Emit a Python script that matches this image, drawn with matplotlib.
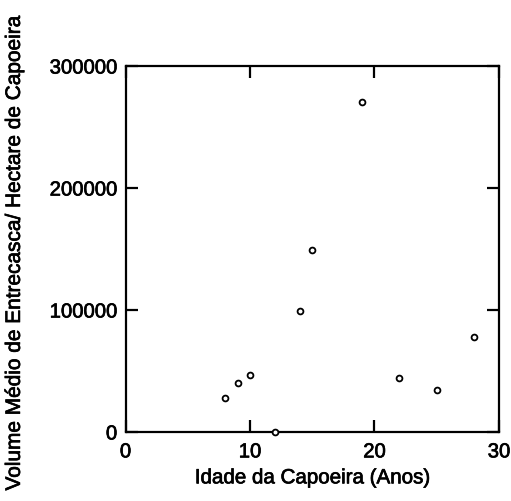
import matplotlib
matplotlib.use("Agg")
import matplotlib.pyplot as plt
import matplotlib.patheffects as pe

plt.rcParams['font.family'] = ['Liberation Sans', 'DejaVu Sans']

# Idade da capoeira (anos) e volume médio de entrecasca por hectare
idade = [8, 9, 10, 12, 14, 15, 19, 22, 25, 28]
volume = [27500, 40500, 46500, 0, 99000, 149000, 270500, 44000, 34000, 78000]

x_ticks = [0, 10, 20, 30]
y_ticks = [0, 100000, 200000, 300000]

fig = plt.figure(figsize=(5.11, 5.02), dpi=100)
ax = fig.add_axes([0.2456, 0.1375, 0.9765 - 0.2456, 0.8665 - 0.1375])

ax.plot(idade, volume, linestyle='none', marker='o', markersize=4.2,
        markerfacecolor='white', markeredgecolor='black', markeredgewidth=1.3,
        clip_on=False, zorder=3)

ax.set_xlim(0, 30)
ax.set_ylim(0, 300000)
ax.set_xticks(x_ticks)
ax.set_yticks(y_ticks)
ax.set_xticklabels([str(t) for t in x_ticks])
ax.set_yticklabels([str(t) for t in y_ticks])

for s in ax.spines.values():
    s.set_linewidth(1.6)

ax.tick_params(axis='both', direction='in', length=8.5, width=1.6,
               top=True, right=True, labelsize=14.6, pad=6)
ax.tick_params(axis='x', pad=7.5)

ax.set_xlabel('Idade da Capoeira (Anos)', fontsize=14.8, labelpad=5)
ax.set_ylabel('Volume Médio de Entrecasca/ Hectare de Capoeira', fontsize=15.0)
ax.yaxis.set_label_coords(-0.272, 0.49)

# slightly heavier strokes for the lettering
thick = [pe.withStroke(linewidth=0.5, foreground='black')]
for t in ax.get_xticklabels() + ax.get_yticklabels() + [ax.xaxis.label, ax.yaxis.label]:
    t.set_path_effects(thick)

fig.savefig('out.png', dpi=100)
